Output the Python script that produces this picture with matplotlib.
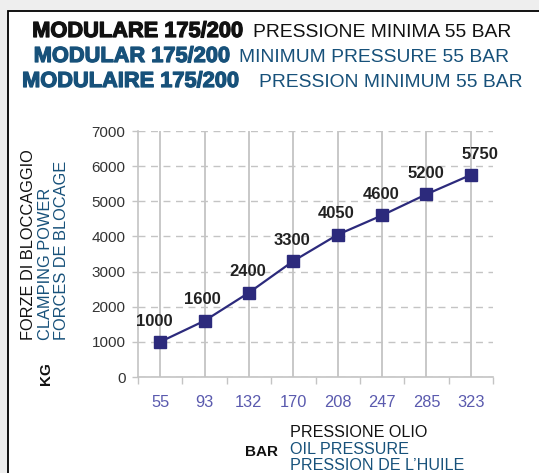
import matplotlib
matplotlib.use("Agg")
import matplotlib.pyplot as plt
import matplotlib.patheffects as pe
from matplotlib.patches import Rectangle

plt.rcParams['font.family'] = ['Liberation Sans', 'DejaVu Sans']

# pressione olio (bar) / forze di bloccaggio (kg)
pressure_bar = ['55', '93', '132', '170', '208', '247', '285', '323']
clamping_kg = [1000, 1600, 2400, 3300, 4050, 4600, 5200, 5750]
y_ticks = [0, 1000, 2000, 3000, 4000, 5000, 6000, 7000]

title_bold = ['MODULARE 175/200', 'MODULAR 175/200', 'MODULAIRE 175/200']
title_rest = ['PRESSIONE MINIMA 55 BAR', 'MINIMUM PRESSURE 55 BAR',
              'PRESSION MINIMUM 55 BAR']
y_title = ['FORZE DI BLOCCAGGIO', 'CLAMPING POWER', 'FORCES DE BLOCAGE']
x_title = ['PRESSIONE OLIO', 'OIL PRESSURE', 'PRESSION DE L\u2019HUILE']

W, H = 539, 473
BLACK = '#111111'
TEAL = '#17517a'
NAVY = '#2c2a7c'
GRID = '#c4c4c4'

fig = plt.figure(figsize=(W / 100, H / 100), dpi=100)
fig.patch.set_facecolor('#eeeeee')


def fx(px):
    return px / W


def fy(py):
    return 1 - py / H


# white card with black border
fig.patches.append(Rectangle((fx(8), fy(480)), fx(560), fy(11) - fy(480),
                             transform=fig.transFigure, facecolor='white',
                             edgecolor='black', linewidth=1.3, zorder=-10))

# header, three languages
colors = [BLACK, TEAL, TEAL]
bold_right = [243, 230, 239]
rest_left = [253, 239, 259]
baselines = [37, 62, 87]
for i in range(3):
    fig.text(fx(bold_right[i]), fy(baselines[i]), title_bold[i], ha='right',
             va='baseline', fontsize=15.7, fontweight='bold', color=colors[i],
             path_effects=[pe.withStroke(linewidth=0.9, foreground=colors[i])])
    fig.text(fx(rest_left[i]), fy(baselines[i]), title_rest[i], ha='left',
             va='baseline', fontsize=13.9, color=colors[i])

ax = fig.add_axes([fx(138), fy(377), fx(493) - fx(138), fy(131) - fy(377)])
ax.set_facecolor('none')

x = list(range(len(pressure_bar)))
ax.plot(x, clamping_kg, color=NAVY, linewidth=1.6, marker='s',
        markersize=8, markerfacecolor=NAVY, markeredgecolor=NAVY, zorder=3)

label_dx = [-6, -2, -1, -1, -2, -1, -1, 9]
for i, v in enumerate(clamping_kg):
    ax.annotate(str(v), (x[i], v), xytext=(label_dx[i] * 0.72, 15),
                textcoords='offset points', ha='center', va='center',
                fontsize=12, fontweight='bold', color='#222222', zorder=4)

ax.set_xlim(-0.5, len(pressure_bar) - 0.5)
ax.set_ylim(0, 7000)

ax.set_xticks(x)
ax.set_xticklabels(pressure_bar)
ax.set_xticks([i - 0.5 for i in range(len(pressure_bar) + 1)], minor=True)
ax.tick_params(axis='x', which='major', length=0, pad=13, labelsize=11.8,
               labelcolor='#5a5aae')
ax.tick_params(axis='x', which='minor', length=5, width=1, color=GRID)

ax.set_yticks(y_ticks)
ax.tick_params(axis='y', length=4, width=1, color=GRID, pad=5, labelsize=11,
               labelcolor='#333333')

ax.xaxis.grid(True, which='major', color=GRID, linewidth=1.3, linestyle='-')
ax.yaxis.grid(True, color=GRID, linewidth=1, linestyle=(0, (5, 4)))
ax.set_axisbelow(True)

for side in ['top', 'right']:
    ax.spines[side].set_visible(False)
for side in ['left', 'bottom']:
    ax.spines[side].set_color(GRID)
    ax.spines[side].set_linewidth(1.2)

# y axis title (rotated)
for xc, txt, c in zip([29, 46, 62], y_title, [BLACK, TEAL, TEAL]):
    fig.text(fx(xc), fy(340), txt, rotation=90, ha='center', va='bottom',
             fontsize=11.8, color=c)
fig.text(fx(46), fy(374), 'KG', rotation=90, ha='center', va='center',
         fontsize=11, fontweight='bold', color=BLACK)

# x axis title
fig.text(fx(262), fy(452), 'BAR', ha='center', va='center', fontsize=11,
         fontweight='bold', color=BLACK)
for yc, txt, c in zip([432, 449, 465], x_title, [BLACK, TEAL, TEAL]):
    fig.text(fx(290), fy(yc), txt, ha='left', va='center', fontsize=11.6,
             color=c)

fig.savefig('out.png', dpi=100, facecolor=fig.get_facecolor())
